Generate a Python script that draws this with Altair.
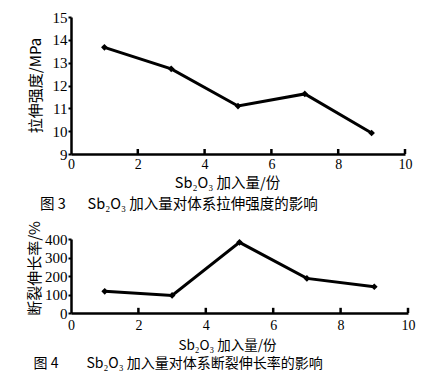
import altair as alt
import pandas as pd

# data
x_vals = [1, 3, 5, 7, 9]
strength = [13.67, 12.73, 11.1, 11.63, 9.92]
elongation = [117, 95, 382, 187, 142]
x_tick_vals = [2, 4, 6, 8, 10]
x_label_vals = [0, 2, 4, 6, 8, 10]
y1_vals = [9, 10, 11, 12, 13, 14, 15]
y2_vals = [0, 100, 200, 300, 400]

x_title = "Sb₂O₃ 加入量/份"
cap1 = "图 3\u2003\u2002Sb₂O₃ 加入量对体系拉伸强度的影响"
cap2 = "图 4\u2003\u2003Sb₂O₃ 加入量对体系断裂伸长率的影响"

serif = "Liberation Serif"
cjk = "Noto Sans CJK SC"

df1 = pd.DataFrame({"x": x_vals, "y": strength})
df2 = pd.DataFrame({"x": x_vals, "y": elongation})
tk1 = pd.DataFrame({"x": x_tick_vals, "y": [9] * 5, "y1": [9.22] * 5})
tk2 = pd.DataFrame({"x": x_tick_vals, "y": [0] * 5, "y1": [28] * 5})


def panel(df, tk, ydom, yvals, ytitle, w, h, caption, lab_pad, title_pad,
          ytitle_pad, ytitle_y, cap_off, cap_dx, xt_size, cap_size):
    xs = alt.Scale(domain=[0, 10], nice=False)
    ys = alt.Scale(domain=ydom, nice=False)
    xaxis = alt.Axis(values=x_label_vals, format="d", ticks=False, grid=False,
                     domainWidth=2.5, domainColor="black",
                     labelFont=serif, labelFontSize=14, labelColor="black",
                     labelPadding=lab_pad, labelOverlap=False, labelFlush=False,
                     title=x_title, titleFont=cjk, titleFontSize=xt_size,
                     titleFontWeight="normal", titleColor="black",
                     titlePadding=title_pad, titleX=156, titleAlign="center")
    yaxis = alt.Axis(values=yvals, grid=False, domainWidth=2.5, domainColor="black",
                     tickColor="black", tickWidth=2, tickSize=3,
                     labelFont=serif, labelFontSize=15, labelColor="black",
                     labelPadding=1, labelOverlap=False, labelFlush=False,
                     labelBound=False,
                     title=ytitle, titleFont=cjk, titleFontSize=15,
                     titleFontWeight="normal", titleColor="black",
                     titlePadding=ytitle_pad, titleY=ytitle_y)
    X = alt.X("x:Q", scale=xs, axis=xaxis)
    Y = alt.Y("y:Q", scale=ys, axis=yaxis)
    line = alt.Chart(df).mark_line(color="black", strokeWidth=3).encode(x=X, y=Y)
    pts = alt.Chart(df).mark_point(shape="diamond", filled=True, color="black",
                                   size=45, opacity=1).encode(x=X, y=Y)
    ticks = alt.Chart(tk).mark_rule(color="black", strokeWidth=2.5).encode(
        x=X, y=Y, y2="y1:Q")
    return alt.layer(line, pts, ticks).properties(
        width=w, height=h,
        title=alt.TitleParams(caption, orient="bottom", anchor="start", dx=cap_dx,
                              font=cjk, fontSize=cap_size, fontWeight="normal",
                              color="black", offset=cap_off),
    )


top = panel(df1, tk1, [9, 15], y1_vals, "拉伸强度/MPa", 334, 137, cap1,
            3, 5, 9, 68, 8, 12, 14.5, 14.5)
bottom = panel(df2, tk2, [0, 400], y2_vals, "断裂伸长率/%", 337, 74, cap2,
               5, 6, 2, 29, 5, 6, 13.5, 14)

chart = alt.vconcat(top, bottom, spacing=85, bounds="flush").properties(
    padding={"left": 27, "top": 10, "right": 5, "bottom": 5},
    background="white",
).configure_view(stroke=None).configure_axis(labelOverlap=False)

chart.save("out.html", embed_options={"renderer": "svg", "actions": False})
